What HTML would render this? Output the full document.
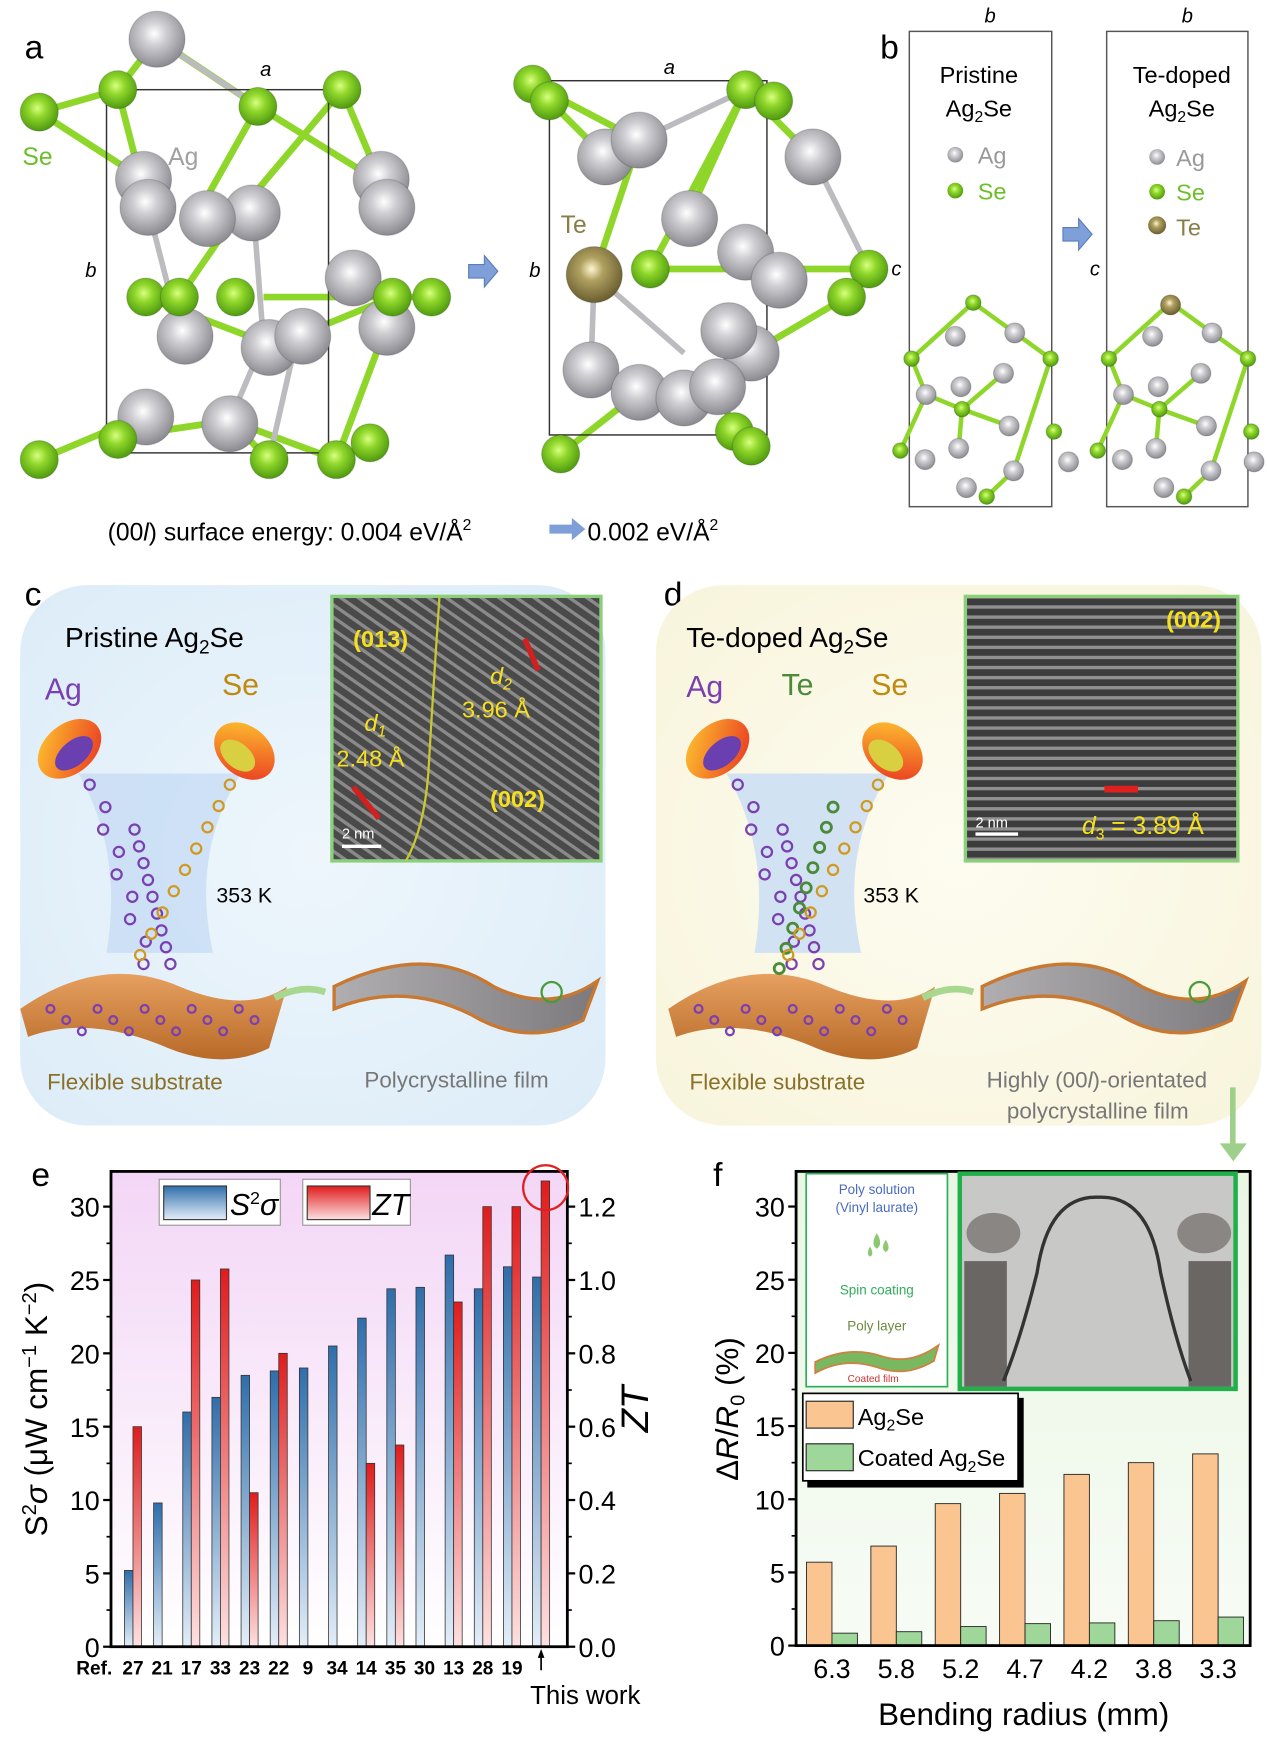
<!DOCTYPE html>
<html><head><meta charset="utf-8"><style>
html,body{margin:0;padding:0;background:#fff;}
svg{display:block;font-family:"Liberation Sans",Arial,sans-serif;}
</style></head><body>
<svg id="fig" xmlns="http://www.w3.org/2000/svg" width="1267" height="1742" viewBox="0 0 1130 1554" preserveAspectRatio="none">
<defs>
<radialGradient id="gAg" cx="0.45" cy="0.4" r="0.6"><stop offset="0" stop-color="#ffffff"/><stop offset="0.35" stop-color="#d0d0d4"/><stop offset="1" stop-color="#8a8a90"/></radialGradient>
<radialGradient id="gSe" cx="0.45" cy="0.4" r="0.6"><stop offset="0" stop-color="#d8ff80"/><stop offset="0.4" stop-color="#8fd62a"/><stop offset="1" stop-color="#4f9a10"/></radialGradient>
<radialGradient id="gTe" cx="0.45" cy="0.4" r="0.6"><stop offset="0" stop-color="#fff8d0"/><stop offset="0.35" stop-color="#b0a060"/><stop offset="1" stop-color="#6a5e30"/></radialGradient>
<linearGradient id="gBlue" x1="0" y1="0" x2="0" y2="1"><stop offset="0" stop-color="#2f6eab"/><stop offset="1" stop-color="#e3eef8"/></linearGradient>
<linearGradient id="gRed" x1="0" y1="0" x2="0" y2="1"><stop offset="0" stop-color="#e01c1c"/><stop offset="1" stop-color="#fde0e0"/></linearGradient>
<linearGradient id="gEbg" x1="0" y1="0" x2="0" y2="1"><stop offset="0" stop-color="#f3d6f6"/><stop offset="1" stop-color="#ffffff"/></linearGradient>
<linearGradient id="gFbg" x1="0" y1="0" x2="0" y2="1"><stop offset="0" stop-color="#eaf6e4"/><stop offset="1" stop-color="#f7fcf5"/></linearGradient>
<radialGradient id="gCbg" cx="0.5" cy="0.5" r="0.7"><stop offset="0" stop-color="#eef6fc"/><stop offset="1" stop-color="#dcecf8"/></radialGradient>
<radialGradient id="gDbg" cx="0.5" cy="0.5" r="0.7"><stop offset="0" stop-color="#fdfcf0"/><stop offset="1" stop-color="#f8f4dc"/></radialGradient>
<linearGradient id="gSub" x1="0" y1="0" x2="0" y2="1"><stop offset="0" stop-color="#e6a060"/><stop offset="1" stop-color="#b86a28"/></linearGradient>
<linearGradient id="gFilm" x1="0" y1="0" x2="1" y2="0"><stop offset="0" stop-color="#b0aeb0"/><stop offset="1" stop-color="#7c7a7c"/></linearGradient>
<linearGradient id="gSrc" x1="0" y1="0" x2="1" y2="1"><stop offset="0" stop-color="#ffcc30"/><stop offset="1" stop-color="#e83020"/></linearGradient>
<pattern id="lat1" width="9" height="9" patternUnits="userSpaceOnUse" patternTransform="rotate(35)"><rect width="9" height="9" fill="#4a4a4a"/><rect width="9" height="3" fill="#8a8a8a"/></pattern>
<pattern id="lat2" width="9" height="9" patternUnits="userSpaceOnUse"><rect width="9" height="9" fill="#3c3c3c"/><rect width="9" height="3" fill="#909090"/></pattern>
</defs>

<!-- panel a -->
<g id="panelA"></g>
<text x="22" y="52" font-size="30">a</text>
<text x="20" y="147" font-size="22" fill="#6dbf2a">Se</text>
<text x="150" y="147" font-size="22" fill="#a0a0a0">Ag</text>
<text x="500" y="208" font-size="22" fill="#8a7d45">Te</text>
<text x="232" y="68" font-size="18" font-style="italic">a</text>
<text x="592" y="66" font-size="18" font-style="italic">a</text>
<text x="76" y="247" font-size="18" font-style="italic">b</text>
<text x="472" y="247" font-size="18" font-style="italic">b</text>
<path d="M418 236 h14 v-8 l12 14 l-12 14 v-8 h-14z" fill="#7f9fd8" stroke="#5a7cc0"/>
<text x="96" y="482" font-size="22">(00<tspan font-style="italic">l</tspan>) surface energy: 0.004 eV/Å<tspan font-size="14" dy="-9">2</tspan></text>
<path d="M490 468 h20 v-6 l12 10 l-12 10 v-6 h-20z" fill="#7f9fd8"/>
<text x="524" y="482" font-size="22">0.002 eV/Å<tspan font-size="14" dy="-9">2</tspan></text>

<!-- panel b -->
<text x="785" y="52" font-size="30">b</text>
<rect x="811" y="28" width="127" height="424" fill="none" stroke="#555" stroke-width="1.3"/>
<rect x="987" y="28" width="126" height="424" fill="none" stroke="#555" stroke-width="1.3"/>
<text x="878" y="20" font-size="18" font-style="italic">b</text>
<text x="1054" y="20" font-size="18" font-style="italic">b</text>
<text x="795" y="246" font-size="18" font-style="italic">c</text>
<text x="972" y="246" font-size="18" font-style="italic">c</text>
<text x="873" y="74" font-size="21" text-anchor="middle">Pristine</text>
<text x="873" y="104" font-size="21" text-anchor="middle">Ag<tspan font-size="14" dy="5">2</tspan><tspan dy="-5">Se</tspan></text>
<text x="1054" y="74" font-size="21" text-anchor="middle">Te-doped</text>
<text x="1054" y="104" font-size="21" text-anchor="middle">Ag<tspan font-size="14" dy="5">2</tspan><tspan dy="-5">Se</tspan></text>
<g>
<circle cx="852" cy="138" r="7" fill="url(#gAg)"/><text x="872" y="146" font-size="21" fill="#999">Ag</text>
<circle cx="852" cy="170" r="7" fill="url(#gSe)"/><text x="872" y="178" font-size="21" fill="#6dbf2a">Se</text>
<circle cx="1032" cy="140" r="7" fill="url(#gAg)"/><text x="1049" y="148" font-size="21" fill="#999">Ag</text>
<circle cx="1032" cy="171" r="7" fill="url(#gSe)"/><text x="1049" y="179" font-size="21" fill="#6dbf2a">Se</text>
<circle cx="1032" cy="201" r="8" fill="url(#gTe)"/><text x="1049" y="210" font-size="21" fill="#8a7d45">Te</text>
</g>
<path d="M948 203 h14 v-8 l12 14 l-12 14 v-8 h-14z" fill="#7f9fd8" stroke="#5a7cc0"/>
<g id="panelB"></g>

<!-- panel c -->
<text x="22" y="540" font-size="30">c</text>
<rect x="18" y="522" width="522" height="482" rx="60" fill="url(#gCbg)"/>
<text x="58" y="577" font-size="25">Pristine Ag<tspan font-size="17" dy="6">2</tspan><tspan dy="-6">Se</tspan></text>
<text x="40" y="624" font-size="27" fill="#7a3fb0">Ag</text>
<text x="198" y="620" font-size="27" fill="#c08a10">Se</text>
<text x="193" y="805" font-size="19">353 K</text>
<rect x="296" y="532" width="240" height="236" fill="url(#lat1)" stroke="#8ccf7a" stroke-width="3"/>
<path d="M392 532 Q386 620 382 690 Q378 740 362 768" stroke="#c8c830" stroke-width="2" fill="none"/>
<text x="315" y="577" font-size="21" font-weight="bold" fill="#f5e020">(013)</text>
<text x="437" y="720" font-size="21" font-weight="bold" fill="#f5e020">(002)</text>
<text x="437" y="610" font-size="21" font-style="italic" fill="#f5e020">d<tspan font-size="14" dy="5">2</tspan></text>
<text x="412" y="640" font-size="21" fill="#f5e020">3.96 Å</text>
<text x="325" y="652" font-size="21" font-style="italic" fill="#f5e020">d<tspan font-size="14" dy="5">1</tspan></text>
<text x="300" y="684" font-size="21" fill="#f5e020">2.48 Å</text>
<line x1="468" y1="570" x2="480" y2="598" stroke="#d02020" stroke-width="5"/>
<line x1="315" y1="702" x2="338" y2="730" stroke="#d02020" stroke-width="5"/>
<line x1="305" y1="755" x2="340" y2="755" stroke="#fff" stroke-width="3"/>
<text x="305" y="748" font-size="13" fill="#fff">2 nm</text>
<g id="panelC"></g>
<text x="42" y="972" font-size="20" fill="#8a7028">Flexible substrate</text>
<text x="325" y="970" font-size="20" fill="#777">Polycrystalline film</text>

<!-- panel d -->
<text x="592" y="540" font-size="30">d</text>
<rect x="585" y="522" width="540" height="482" rx="60" fill="url(#gDbg)"/>
<text x="612" y="577" font-size="25">Te-doped Ag<tspan font-size="17" dy="6">2</tspan><tspan dy="-6">Se</tspan></text>
<text x="612" y="622" font-size="27" fill="#7a3fb0">Ag</text>
<text x="697" y="620" font-size="27" fill="#4a8a3a">Te</text>
<text x="777" y="620" font-size="27" fill="#c08a10">Se</text>
<text x="770" y="805" font-size="19">353 K</text>
<rect x="861" y="532" width="243" height="236" fill="url(#lat2)" stroke="#8ccf7a" stroke-width="3"/>
<text x="1040" y="560" font-size="21" font-weight="bold" fill="#f5e020">(002)</text>
<line x1="985" y1="704" x2="1015" y2="704" stroke="#e02020" stroke-width="6"/>
<text x="965" y="744" font-size="22" fill="#f5e020"><tspan font-style="italic">d</tspan><tspan font-size="14" dy="5">3</tspan><tspan dy="-5"> = 3.89 Å</tspan></text>
<line x1="870" y1="744" x2="908" y2="744" stroke="#fff" stroke-width="3"/>
<text x="870" y="738" font-size="13" fill="#fff">2 nm</text>
<g id="panelD"></g>
<text x="615" y="972" font-size="20" fill="#8a7028">Flexible substrate</text>
<text x="880" y="970" font-size="20" fill="#777">Highly (00<tspan font-style="italic">l</tspan>)-orientated</text>
<text x="898" y="998" font-size="20" fill="#777">polycrystalline film</text>
<path d="M1097 970 h5 v50 h10 l-12 16 l-12 -16 h9z" fill="#9ed08a"/>

<!-- panel e -->
<text x="28" y="1058" font-size="30">e</text>
<g id="chartE"></g>
<!-- panel f -->
<text x="636" y="1058" font-size="30">f</text>
<g id="chartF"></g>
</svg>
<script>
// ---------- chart e data ----------
const refLabels = ["27","21","17","33","23","22","9","34","14","35","30","13","28","19",""];
const pfValues = [5.2, 9.8, 16.0, 17.0, 18.5, 18.8, 19.0, 20.5, 22.4, 24.4, 24.5, 26.7, 24.4, 25.9, 25.2];
const ztValues = [0.60, null, 1.00, 1.03, 0.42, 0.80, null, null, 0.50, 0.55, null, 0.94, 1.20, 1.20, 1.27];
const leftTicksE = [0, 5, 10, 15, 20, 25, 30];
const rightTicksE = [0.0, 0.2, 0.4, 0.6, 0.8, 1.0, 1.2];
// ---------- chart f data ----------
const radii = ["6.3","5.8","5.2","4.7","4.2","3.8","3.3"];
const bareValues = [5.7, 6.8, 9.7, 10.4, 11.7, 12.5, 13.1];
const coatedValues = [0.85, 0.95, 1.3, 1.5, 1.55, 1.7, 1.95];
const ticksF = [0, 5, 10, 15, 20, 25, 30];

const NS = "http://www.w3.org/2000/svg";
function mk(parent, tag, attrs, text){
  const e = document.createElementNS(NS, tag);
  for (const k in attrs) e.setAttribute(k, attrs[k]);
  if (text !== undefined) e.textContent = text;
  parent.appendChild(e);
  return e;
}

function atoms(g, list, fill, r, name){
  list.forEach(p=>{
    const c = mk(g,"circle",{cx:p[0],cy:p[1],r:r,fill:fill,stroke:"rgba(0,0,0,0.15)"});
    
    
  });
}
function bonds(g, list, col, w){
  list.forEach(b=>{ mk(g,"line",{x1:b[0],y1:b[1],x2:b[2],y2:b[3],stroke:col,"stroke-width":w}); });
}
const A = document.getElementById("panelA");
bonds(A, [[35,100,105,80],[105,80,140,35],[140,35,230,95],[35,100,128,160],[105,80,128,170],[230,95,185,175],[305,80,225,175],[305,80,345,175],[230,95,335,160],[130,265,235,305],[160,265,160,295],[235,265,345,265],[350,265,385,265],[345,290,300,410],[205,375,240,410],[130,370,35,410],[205,375,300,410],[105,390,205,375],[235,305,265,300],[160,265,205,200],[350,265,265,300]], "#8fd62a", 6);
bonds(A, [[140,35,230,95],[128,170,160,295],[225,175,235,305],[235,305,205,375],[265,300,240,410]], "#bcbcc0", 5);
mk(A,"rect",{x:95,y:80,width:198,height:324,fill:"none",stroke:"#333","stroke-width":1.3});
atoms(A, [[140,35],[128,160],[340,160],[132,185],[225,190],[185,195],[345,185],[165,300],[345,292],[240,310],[270,300],[315,248],[130,372],[205,378]], "url(#gAg)", 25, "ag-atom");
atoms(A, [[35,100],[105,80],[230,95],[305,80],[130,265],[160,265],[210,265],[350,265],[385,265],[35,410],[105,392],[240,410],[300,410],[330,395]], "url(#gSe)", 17, "se-atom");
bonds(A, [[475,75,570,125],[490,90,540,140],[665,80,725,140],[665,80,615,190],[580,240,775,240],[755,265,670,315],[500,405,570,350],[655,385,640,345],[665,80,580,240],[530,245,570,125]], "#8fd62a", 6);
bonds(A, [[530,245,610,315],[530,245,527,330],[570,125,665,80],[725,140,775,240],[670,315,610,355]], "#bcbcc0", 5);
mk(A,"rect",{x:490,y:72,width:194,height:316,fill:"none",stroke:"#333","stroke-width":1.3});
atoms(A, [[540,140],[570,125],[725,140],[615,195],[665,225],[695,250],[527,330],[670,315],[650,295],[570,350],[610,355],[640,345]], "url(#gAg)", 25, "ag-atom");
atoms(A, [[475,75],[490,90],[665,80],[690,90],[580,240],[775,240],[755,265],[500,405],[655,385],[670,398]], "url(#gSe)", 17, "se-atom");
atoms(A, [[530,245]], "url(#gTe)", 25, "te-atom");

const B = document.getElementById("panelB");
function bstruct(dx, te){
  bonds(B, [[dx+868,270,dx+813,320],[dx+868,270,dx+937,320],[dx+858,365,dx+826,352],[dx+858,365,dx+900,380],[dx+858,365,dx+855,400],[dx+813,320,dx+826,352],[dx+937,320,dx+904,420],[dx+803,402,dx+826,352],[dx+880,443,dx+904,420],[dx+858,365,dx+895,333]], "#8fd62a", 4);
  atoms(B, [[dx+852,300],[dx+905,297],[dx+857,345],[dx+895,333],[dx+826,352],[dx+900,380],[dx+855,400],[dx+825,410],[dx+862,435],[dx+904,420],[dx+953-dx*0.06,412]], "url(#gAg)", 9, "ag-atom");
  atoms(B, te ? [[dx+813,320],[dx+937,320],[dx+858,365],[dx+940,385],[dx+880,443],[dx+803,402]] : [[dx+868,270],[dx+813,320],[dx+937,320],[dx+858,365],[dx+940,385],[dx+880,443],[dx+803,402]], "url(#gSe)", 7, "se-atom");
  if (te) atoms(B, [[dx+868,272]], "url(#gTe)", 9, "te-atom");
}
bstruct(0,false); bstruct(176,true);

function depo(gid, dx, withTe){
  const g = document.getElementById(gid);
  mk(g,"path",{d:`M${dx+70} 690 Q${dx+110} 760 ${dx+95} 850 L${dx+190} 850 Q${dx+170} 760 ${dx+215} 690 Z`,fill:"#c7dcf5",opacity:0.8});
  mk(g,"path",{d:`M${dx+18} 900 Q${dx+90} 850 ${dx+160} 880 Q${dx+220} 905 ${dx+256} 880 L${dx+240} 935 Q${dx+200} 955 ${dx+150} 935 Q${dx+80} 905 ${dx+25} 925Z`,fill:"url(#gSub)"});
  mk(g,"ellipse",{cx:dx+62,cy:668,rx:32,ry:22,fill:"url(#gSrc)",transform:`rotate(-40 ${dx+62} 668)`});
  mk(g,"ellipse",{cx:dx+66,cy:672,rx:20,ry:11,fill:"#6a3fb0",transform:`rotate(-40 ${dx+66} 672)`});
  mk(g,"ellipse",{cx:dx+218,cy:670,rx:30,ry:22,fill:"url(#gSrc)",transform:`rotate(40 ${dx+218} 670)`});
  mk(g,"ellipse",{cx:dx+212,cy:674,rx:18,ry:11,fill:"#d8d040",transform:`rotate(40 ${dx+212} 674)`});
  for(let i=0;i<9;i++){
    mk(g,"circle",{cx:dx+80+i*6+(i%2)*8,cy:700+i*20,r:4.5,fill:"none",stroke:"#7a3fb0","stroke-width":2});
    mk(g,"circle",{cx:dx+205-i*10,cy:700+i*19,r:4.5,fill:"none",stroke:"#d09a20","stroke-width":2});
    mk(g,"circle",{cx:dx+120+i*4,cy:740+i*15,r:4.5,fill:"none",stroke:"#7a3fb0","stroke-width":2});
    if(withTe) mk(g,"circle",{cx:dx+165-i*6,cy:720+i*18,r:4.5,fill:"none",stroke:"#4a8a3a","stroke-width":2.5});
  }
  for(let i=0;i<14;i++){
    mk(g,"circle",{cx:dx+45+i*14,cy:900+(i%3)*10,r:3.5,fill:"none",stroke:"#7a3fb0","stroke-width":2});
  }
  mk(g,"path",{d:`M${dx+245} 890 q25 -12 45 -5`,stroke:"#a8d890","stroke-width":6,fill:"none"});
  mk(g,"path",{d:`M${dx+298} 880 Q${dx+380} 840 ${dx+440} 880 Q${dx+490} 905 ${dx+533} 875 L${dx+520} 910 Q${dx+470} 935 ${dx+420} 905 Q${dx+360} 875 ${dx+298} 900Z`,fill:"url(#gFilm)",stroke:"#c87830","stroke-width":3});
  mk(g,"circle",{cx:dx+492,cy:885,r:9,fill:"none",stroke:"#4a9a3a","stroke-width":2});
}
depo("panelC", 0, false);
depo("panelD", 578, true);

// ---------- chart e ----------
(function(){
  const g = document.getElementById("chartE");
  const L=99, R=506, T=1045, Bt=1469;
  const yL = v => Bt - v/32.4*(Bt-T);
  const yR = v => Bt - v/1.296*(Bt-T);
  const step = 26.0, x0 = 118.6, bw = 7.6;
  const xc = i => x0 + i*step;
  const bg = mk(g,"rect",{x:L,y:T,width:R-L,height:Bt-T,fill:"url(#gEbg)"});
   
  pfValues.forEach((v,i)=>{
    const r = mk(g,"rect",{x:xc(i)-bw,y:yL(v),width:bw,height:Bt-yL(v),fill:"url(#gBlue)",stroke:"#333","stroke-width":0.7});
    
    
  });
  ztValues.forEach((v,i)=>{
    if(v===null) return;
    const r = mk(g,"rect",{x:xc(i),y:yR(v),width:bw,height:Bt-yR(v),fill:"url(#gRed)",stroke:"#333","stroke-width":0.7});
    
    
  });
  mk(g,"rect",{x:L,y:T,width:R-L,height:Bt-T,fill:"none",stroke:"#000","stroke-width":2.5});
  leftTicksE.forEach(v=>{
    mk(g,"line",{x1:L-7,y1:yL(v),x2:L,y2:yL(v),stroke:"#000","stroke-width":2});
    const t = mk(g,"text",{x:L-10,y:yL(v)+9,"font-size":24,"text-anchor":"end"},String(v));
     
    if(v<30) mk(g,"line",{x1:L-4,y1:yL(v+2.5),x2:L,y2:yL(v+2.5),stroke:"#000","stroke-width":1.5});
  });
  rightTicksE.forEach(v=>{
    mk(g,"line",{x1:R,y1:yR(v),x2:R+7,y2:yR(v),stroke:"#000","stroke-width":2});
    const t = mk(g,"text",{x:R+10,y:yR(v)+9,"font-size":24},v.toFixed(1));
     
    if(v<1.2) mk(g,"line",{x1:R,y1:yR(v+0.1),x2:R+4,y2:yR(v+0.1),stroke:"#000","stroke-width":1.5});
  });
  const rl = mk(g,"text",{x:68,y:1494,"font-size":17,"font-weight":"bold"},"Ref.");
   
  refLabels.forEach((s,i)=>{
    if(!s) return;
    const t = mk(g,"text",{x:xc(i),y:1494,"font-size":17,"font-weight":"bold","text-anchor":"middle"},s);
     
  });
  const last = pfValues.length-1;
  mk(g,"line",{x1:xc(last),y1:1490,x2:xc(last),y2:1474,stroke:"#000","stroke-width":1.5});
  mk(g,"path",{d:`M${xc(last)-3} 1479 L${xc(last)} 1471 L${xc(last)+3} 1479Z`,fill:"#000"});
  const tw = mk(g,"text",{x:522,y:1520,"font-size":23,"text-anchor":"middle"},"This work");
   
  const circ = mk(g,"circle",{cx:xc(last)+4,cy:yR(1.27)+6,r:20,fill:"none",stroke:"#e02020","stroke-width":2});
   
  const yt = mk(g,"text",{transform:"translate(42 1257) rotate(-90)","font-size":28,"text-anchor":"middle"});
   
  yt.innerHTML = 'S<tspan font-size="18" dy="-10">2</tspan><tspan dy="10" font-style="italic">σ</tspan> (μW cm<tspan font-size="18" dy="-10">−1</tspan><tspan dy="10"> K</tspan><tspan font-size="18" dy="-10">−2</tspan><tspan dy="10">)</tspan>';
  const yt2 = mk(g,"text",{transform:"translate(578 1257) rotate(-90)","font-size":34,"font-style":"italic","text-anchor":"middle"},"ZT");
   
  const lg = mk(g,"g",{});
   
  mk(lg,"rect",{x:142,y:1052,width:108,height:41,fill:"#fff",stroke:"#999"});
  mk(lg,"rect",{x:146,y:1058,width:56,height:30,fill:"url(#gBlue)",stroke:"#333"});
  const lt1 = mk(lg,"text",{x:205,y:1084,"font-size":27,"font-style":"italic"}); lt1.innerHTML='S<tspan font-size="16" dy="-10" font-style="normal">2</tspan><tspan dy="10">σ</tspan>';
  mk(lg,"rect",{x:270,y:1052,width:96,height:41,fill:"#fff",stroke:"#999"});
  mk(lg,"rect",{x:274,y:1058,width:56,height:30,fill:"url(#gRed)",stroke:"#333"});
  mk(lg,"text",{x:332,y:1084,"font-size":27,"font-style":"italic"},"ZT");
})();

// ---------- chart f ----------
(function(){
  const g = document.getElementById("chartF");
  const L=710, R=1115, T=1045, Bt=1468;
  const y = v => Bt - v/32.4*(Bt-T);
  const step = 57.4, x0 = 742, bw = 22.7;
  const xc = i => x0 + i*step;
  const bg = mk(g,"rect",{x:L,y:T,width:R-L,height:Bt-T,fill:"url(#gFbg)"});
   
  bareValues.forEach((v,i)=>{
    const r = mk(g,"rect",{x:xc(i)-bw,y:y(v),width:bw,height:Bt-y(v),fill:"#fbc592",stroke:"#222","stroke-width":0.8});
    
    
  });
  coatedValues.forEach((v,i)=>{
    const r = mk(g,"rect",{x:xc(i),y:y(v),width:bw,height:Bt-y(v),fill:"#9fd69a",stroke:"#222","stroke-width":0.8});
    
    
  });
  mk(g,"rect",{x:L,y:T,width:R-L,height:Bt-T,fill:"none",stroke:"#000","stroke-width":2.5});
  ticksF.forEach(v=>{
    mk(g,"line",{x1:L-7,y1:y(v),x2:L,y2:y(v),stroke:"#000","stroke-width":2});
    const t = mk(g,"text",{x:L-10,y:y(v)+9,"font-size":24,"text-anchor":"end"},String(v));
     
    if(v<30) mk(g,"line",{x1:L-4,y1:y(v+2.5),x2:L,y2:y(v+2.5),stroke:"#000","stroke-width":1.5});
  });
  radii.forEach((s,i)=>{
    const t = mk(g,"text",{x:xc(i),y:1497,"font-size":24,"text-anchor":"middle"},s);
     
  });
  const xt = mk(g,"text",{x:913,y:1539,"font-size":28,"text-anchor":"middle"},"Bending radius (mm)");
   
  const yt = mk(g,"text",{transform:"translate(658 1257) rotate(-90)","font-size":28,"text-anchor":"middle"});
   
  yt.innerHTML='Δ<tspan font-style="italic">R</tspan>/<tspan font-style="italic">R</tspan><tspan font-size="18" dy="6">0</tspan><tspan dy="-6"> (%)</tspan>';
  const ins = mk(g,"g",{});
   
  mk(ins,"rect",{x:719,y:1047,width:126,height:190,fill:"#fff",stroke:"#2fae5a","stroke-width":1.5});
  mk(ins,"text",{x:782,y:1065,"font-size":12,fill:"#4a6ac0","text-anchor":"middle"},"Poly solution");
  mk(ins,"text",{x:782,y:1081,"font-size":12,fill:"#4a6ac0","text-anchor":"middle"},"(Vinyl laurate)");
  mk(ins,"path",{d:"M782 1100 q-6 10 0 14 q6 -4 0 -14z M790 1106 q-5 8 0 11 q5 -3 0 -11z M776 1112 q-4 7 0 9 q4 -2 0 -9z",fill:"#8cc870"});
  mk(ins,"text",{x:782,y:1155,"font-size":12,fill:"#2fae5a","text-anchor":"middle"},"Spin coating");
  mk(ins,"text",{x:782,y:1187,"font-size":12,fill:"#6a8a40","text-anchor":"middle"},"Poly layer");
  mk(ins,"path",{d:"M727 1215 q30 -15 60 -5 q25 8 50 -10 l-4 14 q-25 15 -50 6 q-30 -10 -56 5z",fill:"#7ab860",stroke:"#d08040","stroke-width":1.5});
  mk(ins,"text",{x:756,y:1233,"font-size":9,fill:"#d03030"},"Coated film");
  const ph = mk(g,"g",{});
   
  mk(ph,"rect",{x:856,y:1047,width:246,height:192,fill:"#c8c8c6",stroke:"#1fb04a","stroke-width":4});
  mk(ph,"rect",{x:860,y:1125,width:38,height:112,fill:"#6a6664"});
  mk(ph,"rect",{x:1060,y:1125,width:38,height:112,fill:"#6a6664"});
  mk(ph,"ellipse",{cx:886,cy:1100,rx:24,ry:18,fill:"#8a8684"});
  mk(ph,"ellipse",{cx:1074,cy:1100,rx:24,ry:18,fill:"#8a8684"});
  mk(ph,"path",{d:"M895 1232 Q910 1195 925 1135 Q935 1066 980 1068 Q1025 1066 1035 1135 Q1048 1195 1062 1232",fill:"none",stroke:"#333","stroke-width":3});
  const lg = mk(g,"g",{});
   
  mk(lg,"rect",{x:720,y:1247,width:193,height:80,fill:"#000"});
  mk(lg,"rect",{x:716,y:1243,width:192,height:78,fill:"#fff",stroke:"#000","stroke-width":1.5});
  mk(lg,"rect",{x:719,y:1250,width:42,height:24,fill:"#fbc592",stroke:"#222"});
  const t1 = mk(lg,"text",{x:765,y:1271,"font-size":21}); t1.innerHTML='Ag<tspan font-size="14" dy="5">2</tspan><tspan dy="-5">Se</tspan>';
  mk(lg,"rect",{x:719,y:1288,width:42,height:24,fill:"#9fd69a",stroke:"#222"});
  const t2 = mk(lg,"text",{x:765,y:1308,"font-size":21}); t2.innerHTML='Coated Ag<tspan font-size="14" dy="5">2</tspan><tspan dy="-5">Se</tspan>';
})();
</script>
</body></html>
